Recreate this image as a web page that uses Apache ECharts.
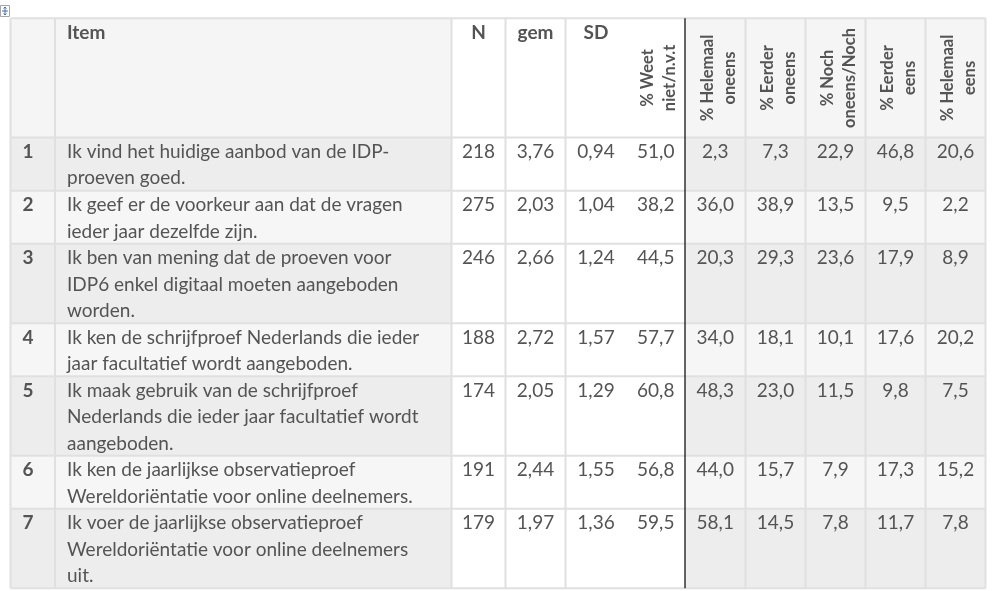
<!DOCTYPE html>
<html><head><meta charset="utf-8">
<script src="https://cdn.jsdelivr.net/npm/echarts@6/dist/echarts.min.js"></script>
<style>html,body{margin:0;padding:0;background:#fff}#c{width:995px;height:591px}</style>
</head><body><div id="c"></div>
<script>
// ---- data ----
const headers = ['', 'Item', 'N', 'gem', 'SD', '% Weet\nniet/n.v.t', '% Helemaal\noneens', '% Eerder\noneens', '% Noch\noneens/Noch', '% Eerder\neens', '% Helemaal\neens'];
const rowNumbers = ['1', '2', '3', '4', '5', '6', '7'];
const items = [
  'Ik vind het huidige aanbod van de IDP-\nproeven goed.',
  'Ik geef er de voorkeur aan dat de vragen\nieder jaar dezelfde zijn.',
  'Ik ben van mening dat de proeven voor\nIDP6 enkel digitaal moeten aangeboden\nworden.',
  'Ik ken de schrijfproef Nederlands die ieder\njaar facultatief wordt aangeboden.',
  'Ik maak gebruik van de schrijfproef\nNederlands die ieder jaar facultatief wordt\naangeboden.',
  'Ik ken de jaarlijkse observatieproef\nWereldoriëntatie voor online deelnemers.',
  'Ik voer de jaarlijkse observatieproef\nWereldoriëntatie voor online deelnemers\nuit.'
];
const nValues = [218, 275, 246, 188, 174, 191, 179];
const gemValues = [3.76, 2.03, 2.66, 2.72, 2.05, 2.44, 1.97];
const sdValues = [0.94, 1.04, 1.24, 1.57, 1.29, 1.55, 1.36];
const weetNiet = [51.0, 38.2, 44.5, 57.7, 60.8, 56.8, 59.5];
const helemaalOneens = [2.3, 36.0, 20.3, 34.0, 48.3, 44.0, 58.1];
const eerderOneens = [7.3, 38.9, 29.3, 18.1, 23.0, 15.7, 14.5];
const nochOneensNoch = [22.9, 13.5, 23.6, 10.1, 11.5, 7.9, 7.8];
const eerderEens = [46.8, 9.5, 17.9, 17.6, 9.8, 17.3, 11.7];
const helemaalEens = [20.6, 2.2, 8.9, 20.2, 7.5, 15.2, 7.8];

// ---- layout (not data) ----
const colWidths = [44.5, 396.5, 54, 60, 61, 58.5, 60.5, 60, 60, 60, 60];
const HEADER_UNITS = 4.5;
const FONT = 'Lato';
const FS = 19;
const FS_ROT = 16.5;
const TEXT = '#545454';

const pctCols = [weetNiet, helemaalOneens, eerderOneens, nochOneensNoch, eerderEens, helemaalEens];
const fmt = (v, d) => v.toFixed(d).replace('.', ',');

function cellText(r, c) {
  if (r === 0) return headers[c];
  const i = r - 1;
  if (c === 0) return rowNumbers[i];
  if (c === 1) return items[i];
  if (c === 2) return String(nValues[i]);
  if (c === 3) return fmt(gemValues[i], 2);
  if (c === 4) return fmt(sdValues[i], 2);
  return fmt(pctCols[c - 5][i], 1);
}

const rowUnits = [HEADER_UNITS].concat(items.map(t => t.split('\n').length));
const rowStarts = []; let accR = 0;
rowUnits.forEach(u => { rowStarts.push(accR); accR += u; });
const totalUnits = accR;
const colStarts = []; let accC = 0;
colWidths.forEach(w => { colStarts.push(accC); accC += w; });
const totalWidth = accC;

const cellData = [];
for (let r = 0; r < rowUnits.length; r++) {
  for (let c = 0; c < colWidths.length; c++) {
    cellData.push([colStarts[c], colStarts[c] + colWidths[c], rowStarts[r], rowStarts[r] + rowUnits[r], r, c]);
  }
}
const lineData = [];
rowStarts.concat([totalUnits]).forEach(b => lineData.push([0, totalWidth, b, b, 0]));
colStarts.concat([totalWidth]).forEach((b, k) => { if (k !== 5 && k !== 6) lineData.push([b, b, 0, totalUnits, 0]); });
lineData.push([colStarts[6], colStarts[6], 0, totalUnits, 1]);

function fillColor(r, c) {
  if (c >= 2 && c <= 5) return '#ffffff';
  if (r === 0) return '#f5f5f5';
  return (r % 2 === 1) ? '#ededed' : '#f6f6f6';
}

function renderCell(params, api) {
  const x0 = api.value(0), x1 = api.value(1), y0 = api.value(2), y1 = api.value(3);
  const r = api.value(4), c = api.value(5);
  const p0 = api.coord([x0, y0]);
  const p1 = api.coord([x1, y1]);
  const lineH = api.size([0, 1])[1];
  const w = p1[0] - p0[0], h = p1[1] - p0[1];
  const children = [{
    type: 'rect', shape: { x: p0[0], y: p0[1], width: w, height: h },
    style: { fill: fillColor(r, c) }, silent: true
  }];
  const txt = cellText(r, c);
  if (txt) {
    const bold = (r === 0 || c === 0);
    if (r === 0 && c >= 5) {
      children.push({
        type: 'text', x: p0[0] + w / 2 + 3, y: p0[1] + h / 2, rotation: Math.PI / 2,
        style: { text: txt, x: 0, y: 0, font: 'bold ' + FS_ROT + 'px ' + FONT, fill: TEXT, align: 'center', verticalAlign: 'middle', lineHeight: 22 }
      });
    } else {
      const left = (c <= 1);
      children.push({
        type: 'text',
        style: {
          text: txt, x: left ? p0[0] + 12 : p0[0] + w / 2, y: p0[1] + 1,
          font: (bold ? 'bold ' : '') + FS + 'px ' + FONT, fill: TEXT,
          align: left ? 'left' : 'center', verticalAlign: 'top', lineHeight: lineH
        }
      });
    }
  }
  return { type: 'group', children: children };
}

function renderLine(params, api) {
  const p0 = api.coord([api.value(0), api.value(2)]);
  const p1 = api.coord([api.value(1), api.value(3)]);
  const black = api.value(4) === 1;
  return {
    type: 'line', shape: { x1: p0[0], y1: p0[1], x2: p1[0], y2: p1[1] },
    style: { stroke: black ? '#000000' : '#e0e0e0', lineWidth: black ? 1.2 : 2 }, silent: true
  };
}

const chart = echarts.init(document.getElementById('c'), null, { renderer: 'canvas' });
chart.setOption({
  animation: false,
  backgroundColor: '#ffffff',
  grid: { left: 10.5, right: 9.5, top: 18.3, bottom: 2.7 },
  xAxis: { type: 'value', min: 0, max: totalWidth, show: false },
  yAxis: { type: 'value', min: 0, max: totalUnits, inverse: true, show: false },
  graphic: [
    { type: 'rect', shape: { x: 0.5, y: 5.5, width: 9, height: 11 }, style: { fill: '#ffffff', stroke: '#a6a6a6', lineWidth: 1 } },
    { type: 'line', shape: { x1: 5, y1: 7, x2: 5, y2: 15 }, style: { stroke: '#3a6fc4', lineWidth: 1 } },
    { type: 'line', shape: { x1: 2, y1: 11, x2: 8, y2: 11 }, style: { stroke: '#3a6fc4', lineWidth: 1 } },
    { type: 'polyline', shape: { points: [[3.5, 8.5], [5, 7], [6.5, 8.5]] }, style: { stroke: '#3a6fc4', fill: null, lineWidth: 1 } },
    { type: 'polyline', shape: { points: [[3.5, 13.5], [5, 15], [6.5, 13.5]] }, style: { stroke: '#3a6fc4', fill: null, lineWidth: 1 } }
  ],
  series: [
    { type: 'custom', coordinateSystem: 'cartesian2d', clip: false, encode: { x: [0, 1], y: [2, 3] }, data: cellData, renderItem: renderCell, z: 1 },
    { type: 'custom', coordinateSystem: 'cartesian2d', clip: false, encode: { x: [0, 1], y: [2, 3] }, data: lineData, renderItem: renderLine, z: 2 }
  ]
});
</script>
</body></html>
